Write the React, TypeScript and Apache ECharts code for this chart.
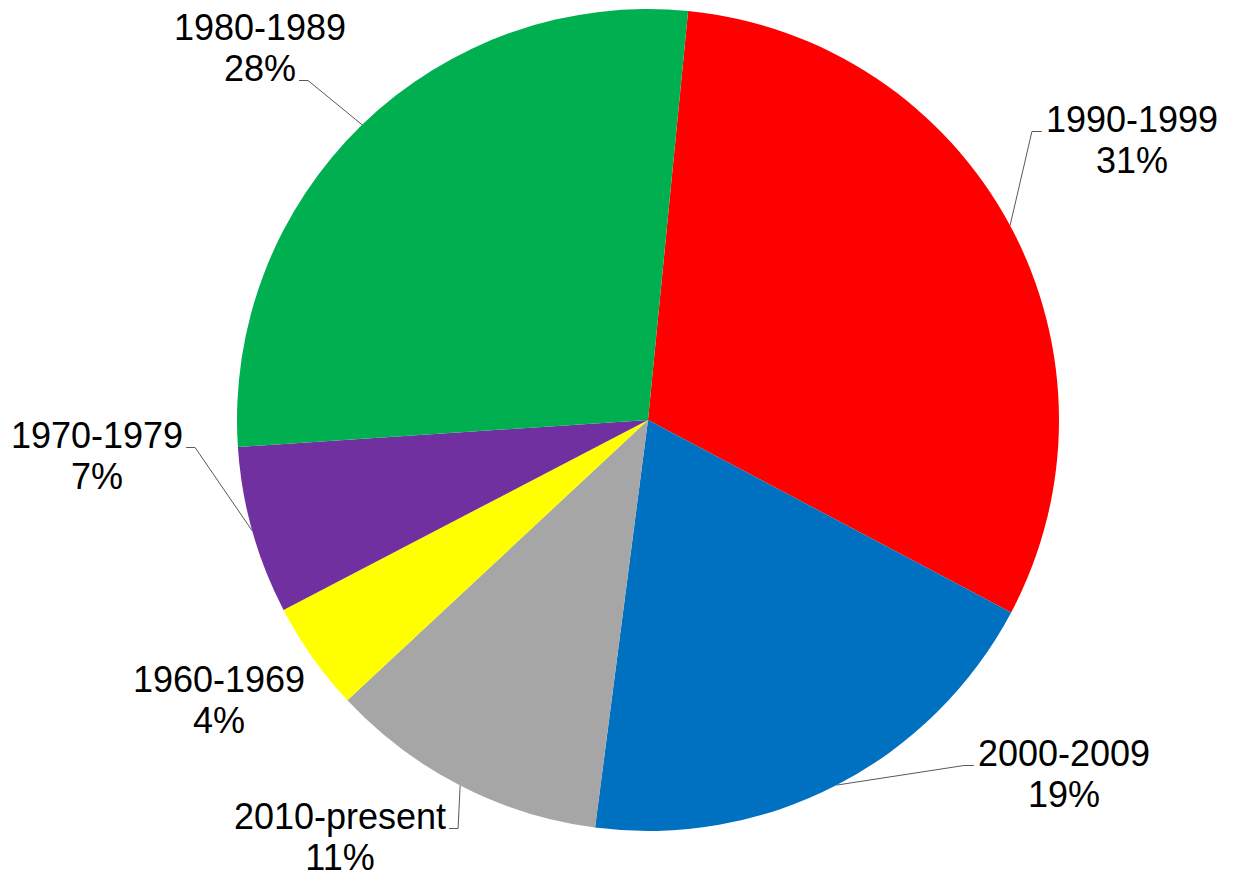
import React, { useEffect, useRef } from 'react';
import * as echarts from 'echarts';

// ---- data (clockwise from the top) ----
const CATEGORIES = ['1990-1999', '2000-2009', '2010-present', '1960-1969', '1970-1979', '1980-1989'];
const VALUES = [31.2, 19.3, 11.0, 4.3, 6.6, 27.6];
const COLORS = ['#FF0000', '#0070C0', '#A6A6A6', '#FFFF00', '#7030A0', '#00B050'];

// ---- label layout (centre of each text block, leader side & attached line) ----
const LABEL_X = [1132, 1064, 340, 219, 97, 260];
const LABEL_Y = [140, 774, 837, 700, 456, 48];
const LEADER_SIDE = ['left', 'left', 'right', 'none', 'right', 'right'];
const LEADER_LINE = [0, 0, 0, 0, 0, 1];

const FONT_SIZE = 36;
const LINE_HEIGHT = 41;
const FONT_FAMILY = "'Liberation Sans', Arial, sans-serif";

let measureCtx: CanvasRenderingContext2D | null = null;
function textWidth(s: string): number {
  if (!measureCtx) measureCtx = document.createElement('canvas').getContext('2d');
  if (!measureCtx) return s.length * FONT_SIZE * 0.55;
  measureCtx.font = `${FONT_SIZE}px ${FONT_FAMILY}`;
  return measureCtx.measureText(s).width;
}

export default function App() {
  const ref = useRef<HTMLDivElement>(null);

  useEffect(() => {
    if (!ref.current) return;
    const chart = echarts.init(ref.current, null, { renderer: 'svg' });
    const data = CATEGORIES.map((name, i) => ({
      name,
      value: VALUES[i],
      itemStyle: { color: COLORS[i] },
      labelLine: { show: LEADER_SIDE[i] !== 'none' },
    }));
    chart.setOption({
      animation: false,
      backgroundColor: '#ffffff',
      series: [
        {
          type: 'pie',
          center: [648, 420],
          radius: 411,
          startAngle: 84.4,
          clockwise: true,
          avoidLabelOverlap: false,
          silent: true,
          emphasis: { disabled: true },
          itemStyle: { borderWidth: 0 },
          label: {
            show: true,
            position: 'outside',
            color: '#000000',
            fontSize: FONT_SIZE,
            lineHeight: LINE_HEIGHT,
            fontFamily: FONT_FAMILY,
            align: 'center',
            formatter: (p: any) => `${p.name}\n${Math.round(p.percent)}%`,
          },
          labelLine: {
            show: true,
            lineStyle: { color: '#595959', width: 1 },
          },
          labelLayout: (params: any) => {
            const i = params.dataIndex;
            const x = LABEL_X[i];
            const y = LABEL_Y[i];
            const side = LEADER_SIDE[i];
            const res: any = { x, y, align: 'center', verticalAlign: 'middle' };
            const pts = params.labelLinePoints;
            if (side !== 'none' && pts && pts.length) {
              const lines = String(params.text || CATEGORIES[i]).split('\n');
              const li = LEADER_LINE[i];
              const w = textWidth(lines[li] || lines[0]);
              const baseY = y + (li - 0.5) * LINE_HEIGHT + 12;
              const ax = side === 'left' ? x - w / 2 - 4 : x + w / 2 + 3;
              const sx = side === 'left' ? ax - 10 : ax + 9;
              res.labelLinePoints = [pts[0], [sx, baseY], [ax, baseY]];
            }
            return res;
          },
          data,
        },
      ],
    });
    return () => chart.dispose();
  }, []);

  return (
    <div
      ref={ref}
      style={{ position: 'fixed', left: 0, top: 0, width: 1241, height: 881 }}
    />
  );
}
